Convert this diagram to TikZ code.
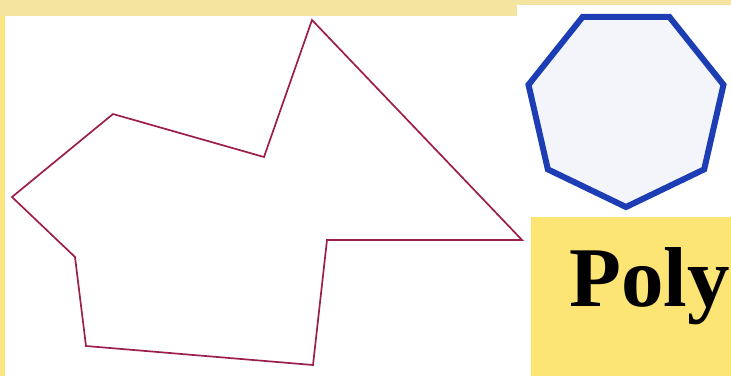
\documentclass[tikz,border=0pt]{standalone}
\usepackage{fontspec}
\setmainfont{Liberation Serif}[BoldFont={Liberation Serif Bold}]
\usetikzlibrary{shapes.geometric}

\definecolor{stripyellow}{HTML}{F4E4A0}
\definecolor{sideyellow}{HTML}{FDE680}
\definecolor{boxyellow}{HTML}{FCE475}
\definecolor{heptablue}{HTML}{1C3DB4}
\definecolor{heptafill}{HTML}{F4F5FB}
\definecolor{polyline}{HTML}{9C1E4E}

\begin{document}
\begin{tikzpicture}[
  x=1pt, y=-1pt,
  outline/.style={draw=polyline, line width=1.7pt, line join=miter},
  hepta/.style={regular polygon, regular polygon sides=7, shape border rotate=180, draw=heptablue, fill=heptafill, line width=6pt, minimum size=200pt, inner sep=0pt, outer sep=0pt},
  title/.style={font=\bfseries\fontsize{85}{85}\selectfont, inner sep=0pt, anchor=base west}
]
\useasboundingbox (0,0) rectangle (731,376);

% backdrop
\fill[sideyellow] (0,0) rectangle (731,376);
\fill[stripyellow] (0,0) rectangle (731,16);
\fill[white] (5,16) rectangle (531,376);
\fill[white] (517,5) rectangle (731,217);
\fill[boxyellow] (531,217) rectangle (731,376);

% irregular polygon
\draw[outline] (312,20) -- (522,240) -- (327,240) -- (313,365) -- (86,346)
  -- (75,257) -- (12,197) -- (113,114) -- (264,157) -- cycle;

% regular heptagon
\node[hepta] (heptagon) at (626,107) {};

% label
\node[title] (poly) at (569,306) {Poly};

\end{tikzpicture}
\end{document}
